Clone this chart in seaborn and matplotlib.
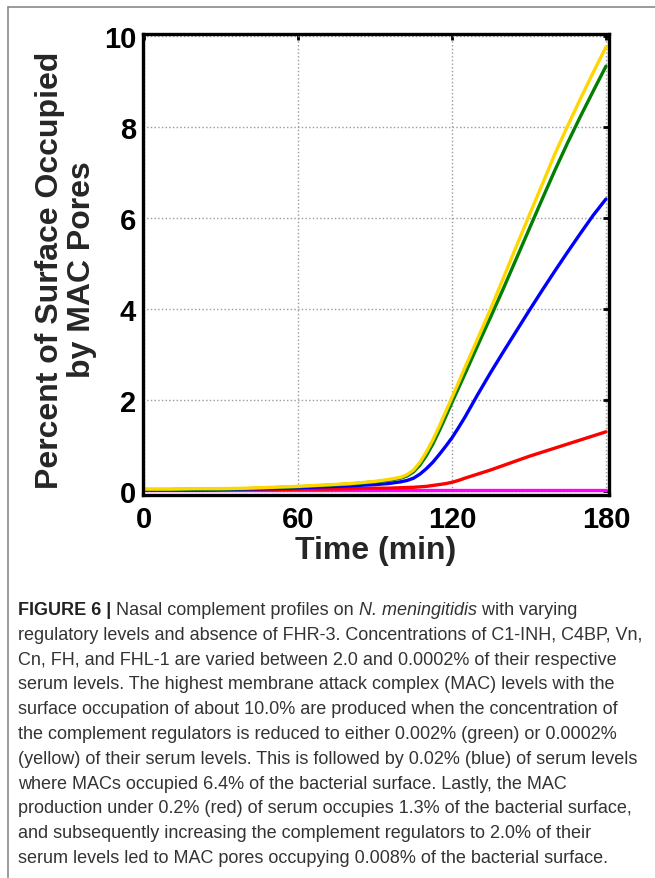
import numpy as np
import pandas as pd
import matplotlib
matplotlib.use("Agg")
import matplotlib.pyplot as plt
import seaborn as sns
from matplotlib.lines import Line2D

# ---------------- data ----------------
time_min = [0, 10, 20, 30, 40, 50, 60, 70, 80, 90, 95, 100, 102.5, 105, 107.5, 110, 112.5,
            115, 117.5, 120, 122.5, 125, 130, 135, 140, 145, 150, 155, 160, 165, 170, 175, 180]

reg_2_0 = [0.03, 0.03, 0.03, 0.03, 0.03, 0.03, 0.03, 0.03, 0.03, 0.03, 0.03, 0.03, 0.03, 0.03,
           0.03, 0.03, 0.03, 0.03, 0.03, 0.03, 0.03, 0.03, 0.03, 0.03, 0.03, 0.03, 0.03, 0.03,
           0.03, 0.03, 0.03, 0.03, 0.03]  # magenta
reg_0_2 = [0.02, 0.02, 0.02, 0.02, 0.03, 0.03, 0.04, 0.04, 0.05, 0.06, 0.06, 0.07, 0.075, 0.08,
           0.09, 0.10, 0.12, 0.14, 0.16, 0.19, 0.23, 0.28, 0.37, 0.46, 0.56, 0.66, 0.76, 0.85,
           0.94, 1.03, 1.12, 1.21, 1.30]  # red
reg_0_02 = [0.02, 0.02, 0.02, 0.03, 0.04, 0.05, 0.07, 0.09, 0.11, 0.14, 0.16, 0.20, 0.23, 0.28,
            0.37, 0.49, 0.63, 0.80, 0.98, 1.17, 1.39, 1.62, 2.12, 2.60, 3.06, 3.51, 3.96, 4.40,
            4.83, 5.25, 5.66, 6.06, 6.42]  # blue
reg_0_002 = [0.03, 0.03, 0.04, 0.04, 0.05, 0.07, 0.09, 0.12, 0.15, 0.20, 0.23, 0.28, 0.33, 0.42,
             0.57, 0.78, 1.03, 1.32, 1.63, 1.95, 2.26, 2.57, 3.20, 3.82, 4.45, 5.10, 5.75, 6.40,
             7.04, 7.65, 8.23, 8.79, 9.34]  # green
reg_0_0002 = [0.04, 0.04, 0.05, 0.05, 0.06, 0.08, 0.10, 0.13, 0.16, 0.21, 0.25, 0.30, 0.36, 0.46,
              0.63, 0.86, 1.12, 1.42, 1.74, 2.06, 2.38, 2.71, 3.35, 4.00, 4.68, 5.37, 6.05, 6.72,
              7.40, 8.02, 8.62, 9.20, 9.76]  # yellow

series_names = ["2.0%", "0.2%", "0.02%", "0.002%", "0.0002%"]
series_values = [reg_2_0, reg_0_2, reg_0_02, reg_0_002, reg_0_0002]
series_colors = ["#FF00FF", "#FF0000", "#0000FF", "#008000", "#FFD700"]

x_ticks = [0, 60, 120, 180]
y_ticks = [0, 2, 4, 6, 8, 10]

caption_lines = [
    "regulatory levels and absence of FHR-3. Concentrations of C1-INH, C4BP, Vn,",
    "Cn, FH, and FHL-1 are varied between 2.0 and 0.0002% of their respective",
    "serum levels. The highest membrane attack complex (MAC) levels with the",
    "surface occupation of about 10.0% are produced when the concentration of",
    "the complement regulators is reduced to either 0.002% (green) or 0.0002%",
    "(yellow) of their serum levels. This is followed by 0.02% (blue) of serum levels",
    "where MACs occupied 6.4% of the bacterial surface. Lastly, the MAC",
    "production under 0.2% (red) of serum occupies 1.3% of the bacterial surface,",
    "and subsequently increasing the complement regulators to 2.0% of their",
    "serum levels led to MAC pores occupying 0.008% of the bacterial surface.",
]

df = pd.DataFrame({
    "time": np.tile(time_min, len(series_names)),
    "value": np.concatenate(series_values),
    "series": np.repeat(series_names, len(time_min)),
})

# ---------------- figure ----------------
sns.set_theme(style="white")
plt.rcParams["font.family"] = ["Liberation Sans", "DejaVu Sans"]

W, H = 655, 879
fig = plt.figure(figsize=(W / 100, H / 100), dpi=100)
fig.patch.set_facecolor("white")

# outer frame (top and left only)
fig.add_artist(Line2D([8 / W, 8 / W], [0, 1 - 8 / H], color="#8a8a8a", lw=1.2,
                      transform=fig.transFigure))
fig.add_artist(Line2D([8 / W, 1], [1 - 8 / H, 1 - 8 / H], color="#8a8a8a", lw=1.2,
                      transform=fig.transFigure))

ax_l, ax_r, ax_t, ax_b = 143, 608.5, 35, 496
ax = fig.add_axes([ax_l / W, 1 - ax_b / H, (ax_r - ax_l) / W, (ax_b - ax_t) / H])

sns.lineplot(data=df, x="time", y="value", hue="series", hue_order=series_names,
             palette=dict(zip(series_names, series_colors)), linewidth=2.4,
             legend=False, ax=ax, sort=False)

ax.set_xlim(-0.5, 181)
ax.set_ylim(-0.09, 10.05)
ax.set_xticks(x_ticks)
ax.set_yticks(y_ticks)
ax.set_xticklabels([str(v) for v in x_ticks], fontsize=21, fontweight="bold")
ax.set_yticklabels([str(v) for v in y_ticks], fontsize=21, fontweight="bold")
ax.tick_params(direction="in", length=4, width=2, top=True, right=True,
               colors="black", pad=5)
ax.tick_params(axis="x", pad=7)
ax.grid(True, linestyle=":", color="#9a9a9a", linewidth=1.0)
ax.set_axisbelow(True)
for s in ax.spines.values():
    s.set_linewidth(2.4)
    s.set_color("black")

ax.set_xlabel("Time (min)", fontsize=23, fontweight="bold", labelpad=2)
ax.set_ylabel("")
fig.text(66 / W, 1 - 270 / H, "Percent of Surface Occupied\nby MAC Pores",
         rotation=90, ha="center", va="center", fontsize=23,
         fontweight="bold", linespacing=1.08, multialignment="center")

# ---------------- caption ----------------
cap_font = "Liberation Sans"
cap_size = 13.0
cap_color = "#333333"
x0 = 18 / W
base0 = 615
step = 24.8
renderer = fig.canvas.get_renderer()

pieces = [("FIGURE 6 | ", "bold", "normal", "#222222"),
          ("Nasal complement profiles on ", "normal", "normal", cap_color),
          ("N. meningitidis", "normal", "italic", cap_color),
          (" with varying", "normal", "normal", cap_color)]
xpos = 18
for txt, wgt, sty, col in pieces:
    t = fig.text(xpos / W, 1 - base0 / H, txt, fontsize=cap_size, fontweight=wgt,
                 fontstyle=sty, color=col, ha="left", va="baseline",
                 family=[cap_font, "DejaVu Sans"])
    bb = t.get_window_extent(renderer=renderer)
    xpos += bb.width
for i, line in enumerate(caption_lines):
    fig.text(x0, 1 - (base0 + step * (i + 1)) / H, line, fontsize=cap_size,
             color=cap_color, ha="left", va="baseline", family=[cap_font, "DejaVu Sans"])

fig.savefig("out.png", dpi=100, facecolor="white")
